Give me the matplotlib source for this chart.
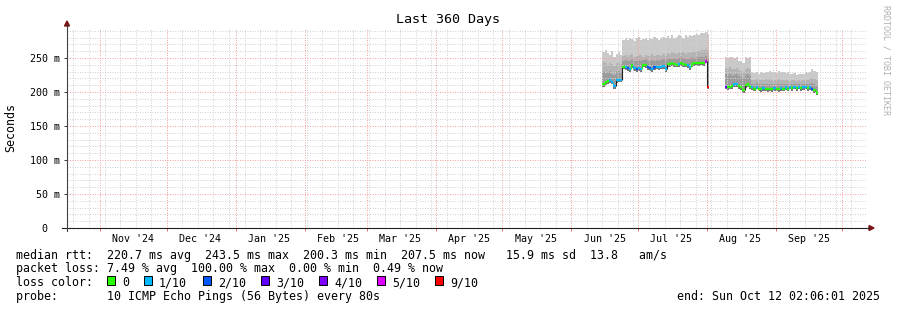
import matplotlib
matplotlib.use('Agg')
import matplotlib.pyplot as plt
import matplotlib.dates as mdates
from matplotlib.patches import Rectangle, Polygon
from matplotlib.lines import Line2D
import pandas as pd

W, H = 897, 310
MONO = 'DejaVu Sans Mono'

end_time = pd.Timestamp('2025-10-12 02:06:01')
start_time = end_time - pd.Timedelta(days=360)

# --- data (ms), one value per day ---
chunk1_start = '2025-06-15'
chunk1_top = [258, 262, 257, 255, 260, 252, 256, 258, 255,
              276, 279, 277, 280, 278, 275, 279, 281, 277, 278, 280, 276, 279, 278, 281, 279, 277, 280,
              281, 279, 282, 280, 283, 280, 281, 284, 282, 280, 283, 281, 284, 282, 283, 285,
              284, 287, 286, 288, 285]
chunk1_p90 = [244, 242, 240, 243, 241, 238, 242, 244, 241,
              253, 255, 252, 254, 256, 252, 253, 255, 254, 252, 255, 253, 254, 256, 253, 255, 254, 253,
              256, 255, 257, 256, 258, 257, 256, 258, 257, 259, 256, 258, 257, 259, 258, 260,
              260, 262, 261, 263, 261]
chunk1_p75 = [230, 228, 229, 231, 227, 225, 230, 231, 229,
              246, 247, 245, 246, 248, 245, 246, 247, 246, 247, 248, 246, 245, 247, 246, 247, 246, 247,
              248, 247, 249, 250, 249, 250, 249, 250, 251, 250, 249, 250, 249, 251, 250, 251,
              251, 252, 251, 253, 250]
chunk1_med = [212, 214, 216, 217, 215, 209, 217, 218, 218,
              237, 236, 235, 234, 239, 235, 234, 235, 234, 240, 239, 236, 235, 234, 236, 237, 236, 237,
              238, 233, 241, 241, 242, 241, 240, 241, 242, 241, 240, 239, 236, 241, 242, 242,
              242, 243, 242, 246, 207]
chunk1_low = [208, 210, 212, 213, 211, 204, 213, 214, 214,
              233, 232, 231, 230, 235, 231, 230, 231, 230, 236, 235, 232, 231, 230, 232, 233, 232, 233,
              234, 229, 237, 237, 238, 237, 236, 237, 238, 237, 236, 235, 232, 237, 238, 238,
              238, 239, 238, 242, 205]
chunk1_loss = [0, 0, 0, 1, 1, 1, 1, 1, 1,
               0, 1, 2, 1, 0, 1, 2, 1, 1, 0, 0, 2, 2, 1, 2, 1, 1, 1,
               1, 1, 0, 0, 0, 0, 0, 1, 0, 0, 0, 1, 1, 0, 0, 0,
               0, 0, 0, 5, 9]

chunk2_start = '2025-08-09'
chunk2_top = [251, 250, 252, 251, 250, 251, 246, 245, 243, 251, 250, 251,
              229, 228, 230, 227, 229, 228, 230, 229, 231, 229, 230, 228, 231, 229, 230,
              228, 229, 227, 226, 228, 225, 227, 226, 227, 229, 228, 230, 233, 231, 229]
chunk2_p90 = [235, 234, 236, 234, 233, 235, 232, 231, 230, 234, 235, 233,
              218, 217, 219, 217, 218, 217, 219, 218, 219, 217, 218, 217, 219, 218, 218,
              217, 218, 216, 217, 218, 216, 217, 216, 217, 218, 217, 219, 220, 219, 217]
chunk2_p75 = [226, 225, 227, 224, 225, 226, 223, 222, 221, 225, 226, 224,
              212, 211, 213, 211, 211, 212, 212, 211, 212, 211, 212, 211, 212, 212, 212,
              211, 212, 211, 212, 212, 211, 212, 211, 212, 212, 211, 212, 213, 211, 209]
chunk2_med = [208, 207, 208, 209, 211, 212, 209, 207, 203, 210, 211, 208,
              207, 205, 208, 205, 204, 206, 205, 204, 205, 204, 206, 205, 204, 206, 205,
              207, 205, 208, 206, 208, 206, 208, 206, 207, 208, 206, 207, 205, 203, 199]
chunk2_low = [204, 203, 204, 205, 207, 208, 205, 203, 199, 206, 207, 204,
              203, 201, 204, 201, 200, 202, 201, 200, 201, 200, 202, 201, 200, 202, 201,
              203, 201, 204, 202, 204, 202, 204, 202, 203, 204, 202, 203, 201, 199, 196]
chunk2_loss = [3, 0, 0, 0, 1, 1, 0, 0, 0, 0, 0, 0,
               1, 0, 1, 0, 0, 1, 0, 0, 0, 0, 1, 0, 0, 1, 0,
               1, 0, 1, 0, 1, 0, 1, 0, 1, 1, 0, 1, 2, 0, 0]

loss_keys = [0, 1, 2, 3, 4, 5, 9]
loss_labels = ['0', '1/10', '2/10', '3/10', '4/10', '5/10', '9/10']
loss_colors = ['#26ff00', '#00b8ff', '#0059ff', '#5e00ff', '#7e00ff', '#dd00ff', '#ff0000']
LOSS_COLOR = dict(zip(loss_keys, loss_colors))

y_major = [0, 50, 100, 150, 200, 250]
y_labels = ['0  ', '50 m', '100 m', '150 m', '200 m', '250 m']

legend_lines = [
    "median rtt:  220.7 ms avg  243.5 ms max  200.3 ms min  207.5 ms now   15.9 ms sd  13.8   am/s",
    "packet loss: 7.49 % avg  100.00 % max  0.00 % min  0.49 % now",
]
probe_text = "probe:       10 ICMP Echo Pings (56 Bytes) every 80s"
end_text = "end: Sun Oct 12 02:06:01 2025"

SMOKE = ['#777777', '#9c9c9c', '#b4b4b4', '#c9c9c9']
MINOR_GRID = '#d2d2d2'
MAJOR_GRID = '#f4a4a4'


def fx(x):
    return x / W


def fy(y):
    return 1 - y / H


def draw_chunk(ax, start, top, p90, p75, med, low, loss):
    n = len(med)
    edges = mdates.date2num(pd.date_range(start, periods=n + 1, freq='D').to_pydatetime())
    layers = [low, med, p75, p90, top]
    for i in range(4):
        lo = list(layers[i]) + [layers[i][-1]]
        hi = list(layers[i + 1]) + [layers[i + 1][-1]]
        ax.fill_between(edges, lo, hi, step='post', color=SMOKE[i],
                        linewidth=0, zorder=1)
    # vertical joins: dark only on big jumps, else in the new day's colour
    for k in range(1, n):
        jump = abs(med[k] - med[k - 1])
        col = '#202020' if jump > 6 else LOSS_COLOR[loss[k]]
        ax.vlines(edges[k], med[k - 1], med[k], colors=col, linewidth=0.8, zorder=4)
    ax.hlines(med, edges[:-1], edges[1:], colors=[LOSS_COLOR[l] for l in loss],
              linewidth=1.6, zorder=5)


fig = plt.figure(figsize=(W / 100, H / 100), dpi=100)
fig.patch.set_facecolor('white')
ax = fig.add_axes([fx(67), (H - 228) / H, 800 / W, 200 / H])
ax.set_facecolor('white')
for s in ax.spines.values():
    s.set_visible(False)

ax.set_xlim(mdates.date2num(start_time.to_pydatetime()), mdates.date2num(end_time.to_pydatetime()))
ax.set_ylim(0, 294)

# grid (dotted, drawn over the smoke like rrdtool)
month_starts = pd.date_range('2024-11-01', '2025-10-01', freq='MS')
sundays = pd.date_range('2024-10-20', '2025-10-12', freq='W-SUN')
gkw = dict(lw=0.72, ls=(0, (1, 1.5)))
for d in sundays:
    ax.axvline(mdates.date2num(d.to_pydatetime()), color=MINOR_GRID, zorder=2, **gkw)
for v in range(10, 291, 10):
    if v % 50:
        ax.axhline(v, color=MINOR_GRID, zorder=2, **gkw)
for d in month_starts:
    ax.axvline(mdates.date2num(d.to_pydatetime()), color=MAJOR_GRID, zorder=3, **gkw)
for v in y_major[1:]:
    ax.axhline(v, color=MAJOR_GRID, zorder=3, **gkw)

draw_chunk(ax, chunk1_start, chunk1_top, chunk1_p90, chunk1_p75, chunk1_med, chunk1_low, chunk1_loss)
draw_chunk(ax, chunk2_start, chunk2_top, chunk2_p90, chunk2_p75, chunk2_med, chunk2_low, chunk2_loss)

# ticks
ax.set_yticks(y_major)
ax.set_yticklabels(y_labels, fontfamily=MONO, fontsize=7.2)
ax.tick_params(axis='y', length=2.2, width=0.72, color='#404040', pad=2.9)

mid_months = [pd.Timestamp(d.year, d.month, 16) for d in month_starts[:-1]]
ax.set_xticks([mdates.date2num(d.to_pydatetime()) for d in mid_months])
ax.set_xticklabels([d.strftime("%b '%y") for d in mid_months], fontfamily=MONO, fontsize=7.2)
ax.set_xticks([mdates.date2num(d.to_pydatetime()) for d in month_starts], minor=True)
ax.tick_params(axis='x', which='major', length=0, pad=4)
ax.tick_params(axis='x', which='minor', length=2.2, width=0.72, color='#e07070')

# axis lines + arrows
fig.add_artist(Line2D([fx(62), fx(869)], [fy(228), fy(228)], color='#202020', lw=0.8))
fig.add_artist(Line2D([fx(67), fx(67)], [fy(231), fy(25)], color='#404040', lw=0.8))
fig.add_artist(Polygon([(fx(67), fy(21)), (fx(64.5), fy(26)), (fx(69.5), fy(26))],
                       closed=True, color='#7a1515', transform=fig.transFigure))
fig.add_artist(Polygon([(fx(874), fy(228)), (fx(869), fy(225.5)), (fx(869), fy(230.5))],
                       closed=True, color='#7a1515', transform=fig.transFigure))

# titles
fig.text(fx(448), fy(19), 'Last 360 Days', ha='center', va='center',
         fontfamily=MONO, fontsize=9.6)
fig.text(fx(11), fy(127), 'Seconds', rotation=90, ha='center', va='center',
         fontfamily=MONO, fontsize=8.4)
fig.text(fx(886), fy(5), 'RRDTOOL / TOBI OETIKER', rotation=270, ha='center', va='top',
         fontfamily=MONO, fontsize=6, color='#b0b0b0')

# legend
fig.text(fx(16), fy(255), legend_lines[0], ha='left', va='center', fontfamily=MONO, fontsize=8.4)
fig.text(fx(16), fy(268.5), legend_lines[1], ha='left', va='center', fontfamily=MONO, fontsize=8.4)
fig.text(fx(16), fy(282.5), 'loss color:', ha='left', va='center', fontfamily=MONO, fontsize=8.4)
box_x = [107, 143.5, 202.7, 260.7, 318.7, 376.7, 434.7]
for bx, lab, col in zip(box_x, loss_labels, loss_colors):
    fig.add_artist(Rectangle((fx(bx), fy(284.5)), 8 / W, 8.5 / H, facecolor=col,
                             edgecolor='black', linewidth=0.7, transform=fig.transFigure))
    fig.text(fx(bx + 15.5), fy(282.5), lab, ha='left', va='center', fontfamily=MONO, fontsize=8.4)
fig.text(fx(16), fy(296.5), probe_text, ha='left', va='center', fontfamily=MONO, fontsize=8.4)
fig.text(fx(880), fy(296.5), end_text, ha='right', va='center', fontfamily=MONO, fontsize=8.4)

fig.savefig('out.png', dpi=100, facecolor='white')
